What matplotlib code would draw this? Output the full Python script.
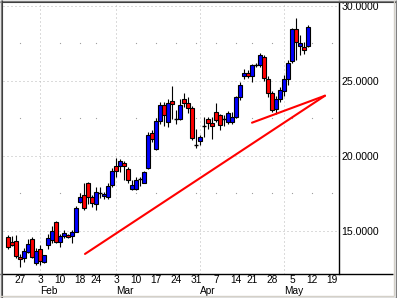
import matplotlib
matplotlib.use('Agg')
import matplotlib.pyplot as plt
from matplotlib.patches import Rectangle
from matplotlib.lines import Line2D
import matplotlib.transforms as mtransforms

# ---- data (trading-day index 0 = Jan 22) ----
opens = [14.60, 14.25, 14.29, 13.27, 13.18, 13.56, 14.47, 12.82, 13.80, 12.89,
         14.05, 14.40, 15.59, 14.27, 14.67, 14.71, 14.67, 14.93, 16.89, 17.38,
         18.18, 17.24, 16.78, 17.53, 17.30, 17.24, 18.03, 19.31, 19.31, 19.49,
         19.13, 17.80, 17.80, 18.42, 18.20, 19.18, 21.53, 20.47, 22.29, 23.36,
         22.25, 23.62, 22.43, 22.43, 23.76, 23.49, 23.18, 20.73, 20.96, 22.00,
         22.47, 22.16, 22.91, 22.69, 22.43, 22.25, 22.25, 22.56, 23.89, 25.31,
         25.53, 25.31, 26.07, 26.02, 26.56, 25.13, 24.16, 23.09, 23.76, 24.29,
         25.13, 26.31, 28.45, 27.33, 27.25, 27.29]
highs = [14.69, 14.65, 14.69, 13.45, 13.85, 14.47, 14.55, 13.85, 14.07, 13.40,
         14.78, 15.29, 15.62, 14.80, 15.02, 14.80, 15.07, 16.62, 17.51, 18.16,
         18.25, 17.36, 17.90, 17.90, 17.60, 18.20, 19.20, 19.85, 19.75, 19.67,
         19.22, 18.40, 18.60, 18.60, 19.00, 21.60, 21.70, 22.50, 23.60, 23.60,
         23.80, 24.65, 23.05, 23.75, 24.16, 23.90, 23.30, 21.80, 21.40, 22.60,
         22.60, 22.60, 23.54, 22.80, 22.70, 23.00, 22.90, 23.95, 24.90, 25.80,
         25.70, 26.10, 26.20, 26.83, 26.70, 25.30, 24.30, 24.00, 24.60, 25.40,
         26.40, 28.50, 29.20, 28.05, 27.60, 28.70]
lows = [13.75, 13.95, 13.20, 12.60, 12.93, 13.50, 13.18, 12.73, 12.73, 12.85,
        13.76, 14.20, 14.16, 13.90, 14.49, 14.49, 14.20, 14.90, 16.84, 16.40,
        16.78, 16.60, 16.40, 17.20, 17.10, 17.10, 17.90, 18.60, 18.90, 18.38,
        18.16, 17.70, 17.70, 18.00, 18.15, 19.10, 20.90, 20.40, 22.10, 22.00,
        21.90, 22.43, 22.10, 22.40, 23.27, 22.85, 21.05, 20.50, 20.70, 21.27,
        21.80, 21.10, 22.25, 21.70, 22.00, 22.10, 22.10, 22.50, 23.70, 25.13,
        25.20, 24.90, 25.90, 25.93, 25.00, 23.90, 22.90, 22.80, 23.60, 24.00,
        24.70, 26.20, 26.36, 26.70, 26.80, 27.25]
closes = [13.89, 14.05, 13.31, 13.13, 13.67, 14.11, 13.27, 13.62, 12.95, 13.35,
          14.49, 14.98, 14.27, 14.62, 14.84, 14.58, 14.93, 16.49, 17.24, 16.49,
          17.24, 16.84, 17.56, 17.53, 17.42, 17.98, 18.96, 18.96, 19.63, 19.31,
          18.38, 18.07, 18.38, 18.42, 18.91, 21.36, 21.13, 22.33, 23.36, 22.69,
          23.49, 23.45, 22.43, 23.36, 23.49, 23.18, 21.18, 20.73, 21.24, 22.00,
          22.16, 21.98, 22.38, 22.02, 22.43, 22.82, 22.60, 23.89, 24.73, 25.49,
          25.31, 26.07, 26.07, 26.69, 25.18, 24.16, 23.05, 23.76, 24.35, 25.13,
          26.16, 28.42, 27.56, 27.51, 27.03, 28.58]

day_tick_idx = [3, 8, 13, 18, 22, 27, 32, 37, 42, 47, 52, 57, 61, 66, 71, 76, 81]
day_tick_labels = ['27', '3', '10', '18', '24', '3', '10', '17', '24', '31',
                   '7', '14', '21', '28', '5', '12', '19']
month_idx = [8, 27, 48, 69]
month_labels = ['Feb', 'Mar', 'Apr', 'May']
y_ticks = [15, 20, 25, 30]
y_tick_labels = ['15.0000', '20.0000', '25.0000', '30.0000']
minor_levels = [17.5, 22.5, 27.5]

trend1_x = [19.25, 79.25]
trend1_y = [13.45, 24.0]
trend2_x = [61.0, 79.25]
trend2_y = [22.2, 24.0]

# ---- figure ----
W, H = 397, 298
fig = plt.figure(figsize=(W / 100, H / 100), dpi=100)
fig.patch.set_facecolor('white')
plt.rcParams['font.family'] = ['Liberation Sans', 'DejaVu Sans']

ax = fig.add_axes([2.5 / W, (H - 274) / H, (339 - 2.5) / W, (274 - 1.5) / H])
ax.set_xlim(-1.375, 82.75)
ax.set_ylim(12.113, 30.28)
ax.set_facecolor('white')

grid_col = '#b8b8b8'
for yv in y_ticks:
    ax.axhline(yv, color=grid_col, lw=0.72, ls=(0, (1, 3)), zorder=0)
for mx in month_idx:
    ax.axvline(mx, color=grid_col, lw=0.72, ls=(0, (1, 3)), zorder=0)
wk = [d for d in day_tick_idx if d not in month_idx]
for lv in minor_levels:
    ax.plot(wk, [lv] * len(wk), ls='none', marker='s', ms=0.8, mew=0,
            color='#a0a0a0', zorder=0)

bw = 0.8
for i, (o, h, l, c) in enumerate(zip(opens, highs, lows, closes)):
    ax.plot([i, i], [l, h], color='black', lw=0.8, zorder=2,
            solid_capstyle='butt')
    if abs(c - o) < 0.02:
        ax.plot([i - bw / 2, i + bw / 2], [o, o], color='black', lw=1.0,
                zorder=3, solid_capstyle='butt')
    else:
        col = '#0000ff' if c > o else '#ff0000'
        ax.add_patch(Rectangle((i - bw / 2, min(o, c)), bw, abs(c - o),
                               facecolor=col, edgecolor='black', lw=0.8,
                               zorder=3))

ax.plot(trend1_x, trend1_y, color='#ff0000', lw=1.5, zorder=4,
        solid_capstyle='round')
ax.plot(trend2_x, trend2_y, color='#ff0000', lw=1.5, zorder=4,
        solid_capstyle='round')

for s in ['left', 'top', 'bottom']:
    ax.spines[s].set_visible(False)
ax.spines['right'].set_color('black')
ax.spines['right'].set_linewidth(1.0)

ax.yaxis.tick_right()
ax.set_yticks(y_ticks)
ax.set_yticklabels(y_tick_labels, fontsize=7.6)
ax.tick_params(axis='y', length=0, pad=1.5)
ax.set_xticks(day_tick_idx)
ax.set_xticklabels(day_tick_labels, fontsize=7.3)
ax.tick_params(axis='x', length=0, pad=0.8)

trans = mtransforms.blended_transform_factory(ax.transData, fig.transFigure)
for mx, ml in zip(month_idx, month_labels):
    ax.text(mx + 0.1, (H - 285.5) / H, ml, transform=trans, ha='left',
            va='top', fontsize=7.3, clip_on=False)


def px_line(x0, y0, x1, y1, color, lw=1.0):
    fig.add_artist(Line2D([x0 / W, x1 / W], [(H - y0) / H, (H - y1) / H],
                          transform=fig.transFigure, color=color, lw=lw,
                          solid_capstyle='butt'))


# bottom axis line extending to the right frame
px_line(0, 274, 393, 274, 'black', 1.0)
# window frame
px_line(0, 0.5, W, 0.5, '#808080', 1.0)
px_line(0, 1.5, W, 1.5, '#404040', 0.8)
px_line(0.5, 0, 0.5, H, '#808080', 1.0)
px_line(1.5, 0, 1.5, H, '#404040', 0.8)
px_line(393.5, 0, 393.5, 296, '#d4d0c8', 1.0)
px_line(0, 295.5, 394, 295.5, '#d4d0c8', 1.0)
px_line(395.5, 0, 395.5, H, '#808080', 1.0)
px_line(0, 297.5, W, 297.5, '#808080', 1.0)

fig.savefig('out.png', dpi=100)
